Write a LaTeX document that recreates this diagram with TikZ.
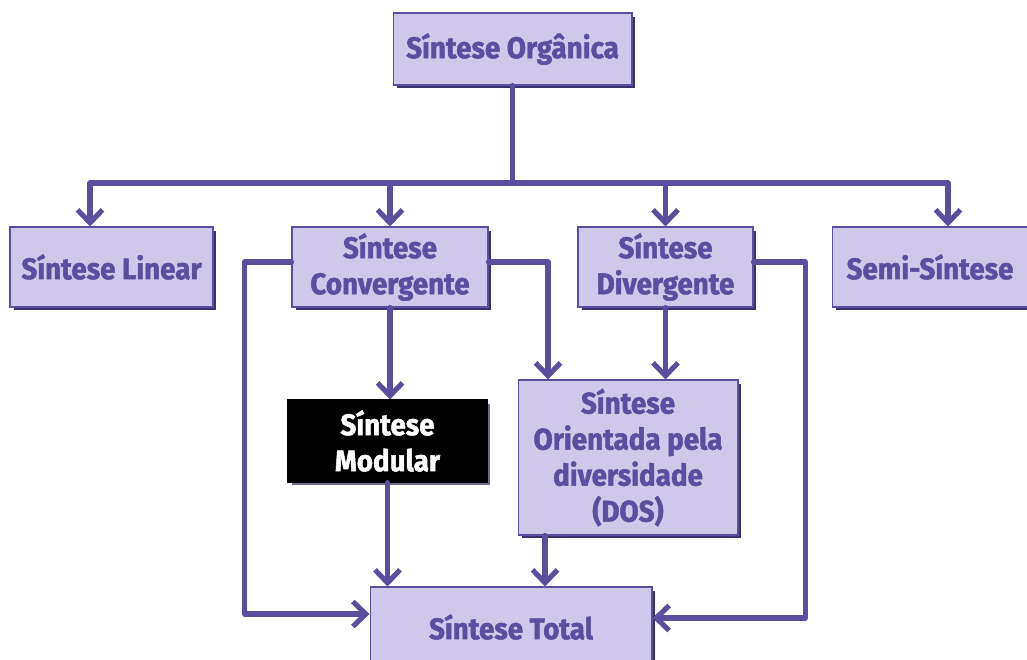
\documentclass[tikz,border=0pt]{standalone}
\usepackage{fontspec}
\setmainfont{Fira Sans}[FakeStretch=0.93, BoldFeatures={FakeBold=1.6}]
\usetikzlibrary{arrows.meta, calc, positioning, shadows}
\definecolor{myPurple}{RGB}{90, 78, 158}
\definecolor{myLavender}{RGB}{208, 200, 235}
\definecolor{myShadow}{RGB}{58, 50, 108}
\tikzstyle{box}= [draw=myPurple, line width=0.6pt, fill=myLavender, text=myPurple,
  font=\bfseries\fontsize{17}{20.5}\selectfont, align=center, inner sep=0pt,
  drop shadow={shadow xshift=0.07cm, shadow yshift=-0.07cm, fill=myShadow, opacity=1}]
\tikzstyle{Box}= [box, minimum height=1.6cm]
\tikzstyle{darkBox}= [Box, fill=black, text=white, draw=black,
  drop shadow={shadow xshift=0.07cm, shadow yshift=-0.07cm, fill=gray!60!myPurple, opacity=1}]
\tikzstyle{link}= [draw=myPurple, line width=2.9pt, line cap=round, line join=round]
\tikzstyle{arr}= [link, -{Straight Barb[length=2.6mm, width=5mm, line width=2.9pt]}]

\begin{document}
\begin{tikzpicture}[x=0.02cm, y=-0.02cm]
    \useasboundingbox (0,0) rectangle (1027,659);

    \node [box, minimum width=4.78cm, minimum height=1.44cm] (org) at (512.5,49) {Síntese Orgânica};
    \node [Box, minimum width=4.06cm] (lin) at (111.5,267) {Síntese Linear};
    \node [Box, minimum width=3.92cm] (conv) at (390,267) {Síntese\\Convergente};
    \node [Box, minimum width=3.5cm] (div) at (665.5,267) {Síntese\\Divergente};
    \node [Box, minimum width=3.9cm] (semi) at (930,267) {Semi-Síntese};
    \node [darkBox, minimum width=3.98cm, minimum height=1.64cm] (mod) at (387.5,441) {Síntese\\Modular};
    \node [Box, minimum width=4.4cm, minimum height=3.1cm] (dos) at (628,457.5) {Síntese\\Orientada pela\\diversidade\\(DOS)};
    \node [Box, minimum width=5.64cm, minimum height=1.6cm] (tot) at (511,627) {Síntese Total};

    % main branches
    \coordinate (bus) at (org.south |- 0,183);
    \coordinate (busL) at (90,183);
    \coordinate (busR) at (948,183);
    \draw[link] (org.south) -- (bus);
    \draw[link] (busL) -- (busR);
    \draw[arr] (busL) -- (busL |- lin.north);
    \draw[arr] (bus -| conv.north) -- (conv.north);
    \draw[arr] (bus -| div.north) -- (div.north);
    \draw[arr] (busR) -- (busR |- semi.north);

    % convergent paths
    \draw[arr] (conv.south) -- (conv.south |- mod.north);
    \draw[arr] ([yshift=0.1cm]conv.east) -| ([xshift=-1.6cm]dos.north);
    \draw[arr] ([yshift=0.1cm]conv.west) -- ++(-47,0) |- ([yshift=0.26cm]tot.west);

    % divergent paths
    \draw[arr] (div.south) -- (div.south |- dos.north);
    \draw[arr] ([yshift=0.1cm]div.east) -- ++(52,0) |- ([yshift=0.18cm]tot.east);

    % into total synthesis
    \draw[arr] (mod.south) -- (mod.south |- tot.north);
    \draw[arr] ([xshift=-1.66cm]dos.south) -- ([xshift=-1.66cm]dos.south |- tot.north);

\end{tikzpicture}
\end{document}
